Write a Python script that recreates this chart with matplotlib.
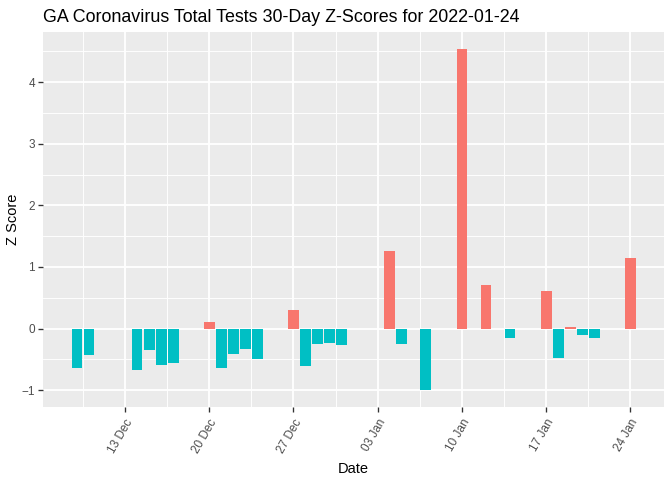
import numpy as np
import pandas as pd
import matplotlib
matplotlib.use("Agg")
import matplotlib.pyplot as plt
import matplotlib.dates as mdates
from matplotlib.ticker import MultipleLocator, FixedLocator

plt.rcParams['font.family'] = ['Liberation Sans', 'DejaVu Sans']

# -----------------------------
# Data
# -----------------------------
dates = [
    "2021-12-09", "2021-12-10", "2021-12-14", "2021-12-15", "2021-12-16",
    "2021-12-17", "2021-12-20", "2021-12-21", "2021-12-22", "2021-12-23",
    "2021-12-24", "2021-12-27", "2021-12-28", "2021-12-29", "2021-12-30",
    "2021-12-31", "2022-01-04", "2022-01-05", "2022-01-07", "2022-01-10",
    "2022-01-12", "2022-01-14", "2022-01-17", "2022-01-18", "2022-01-19",
    "2022-01-20", "2022-01-21", "2022-01-24",
]
z_scores = [
    -0.64, -0.42, -0.67, -0.34, -0.59,
    -0.55, 0.115, -0.64, -0.41, -0.33,
    -0.49, 0.31, -0.61, -0.25, -0.23,
    -0.26, 1.26, -0.25, -0.99, 4.54,
    0.71, -0.16, 0.61, -0.48, 0.03,
    -0.10, -0.16, 1.15,
]

major_ticks = ["2021-12-13", "2021-12-20", "2021-12-27", "2022-01-03",
               "2022-01-10", "2022-01-17", "2022-01-24"]

POS_COL = "#F8766D"
NEG_COL = "#00BFC4"

x = mdates.date2num(pd.to_datetime(dates))
z = np.array(z_scores)
colors = [POS_COL if v > 0 else NEG_COL for v in z]

fig = plt.figure(figsize=(7, 5), dpi=96)
ax = fig.add_axes([43.3 / 672, 1 - 406.7 / 480, (664 - 43.3) / 672, (406.7 - 31.7) / 480])

ax.set_facecolor("#EBEBEB")
for s in ax.spines.values():
    s.set_visible(False)

width = 0.9
ax.bar(x, z, width=width, color=colors, zorder=3)

# ggplot-like 5% expansion
xlo, xhi = x.min() - width / 2, x.max() + width / 2
xpad = (xhi - xlo) * 0.05
ax.set_xlim(xlo - xpad, xhi + xpad)
ylo, yhi = min(0, z.min()), max(0, z.max())
ypad = (yhi - ylo) * 0.05
ax.set_ylim(ylo - ypad, yhi + ypad)

# ticks and grid
tick_nums = mdates.date2num(pd.to_datetime(major_ticks))
ax.xaxis.set_major_locator(FixedLocator(tick_nums))
minor_x = np.concatenate([[tick_nums[0] - 3.5], tick_nums + 3.5])
ax.xaxis.set_minor_locator(FixedLocator(minor_x))
ax.xaxis.set_major_formatter(mdates.DateFormatter("%d %b"))
ax.yaxis.set_major_locator(MultipleLocator(1))
ax.yaxis.set_minor_locator(MultipleLocator(0.5))

ax.grid(True, which="major", color="white", linewidth=1.4, zorder=0)
ax.grid(True, which="minor", color="white", linewidth=0.7, zorder=0)
ax.set_axisbelow(True)

ax.tick_params(which="major", length=3.6, width=1.0, color="#333333",
               labelcolor="#4D4D4D", labelsize=8.8, pad=2.5)
ax.tick_params(axis="x", which="major", pad=4)
ax.tick_params(which="minor", length=0)

for lbl in ax.get_xticklabels():
    lbl.set_rotation(60)
    lbl.set_ha("right")
    lbl.set_va("top")
    lbl.set_rotation_mode("anchor")

ax.set_xlabel("Date", fontsize=11, labelpad=5)
ax.set_ylabel("Z Score", fontsize=11, labelpad=1.5)

fig.text(43.3 / 672, 1 - 22.5 / 480, "GA Coronavirus Total Tests 30-Day Z-Scores for 2022-01-24",
         fontsize=13.4, ha="left", va="baseline")

fig.savefig("out.png", dpi=96)
